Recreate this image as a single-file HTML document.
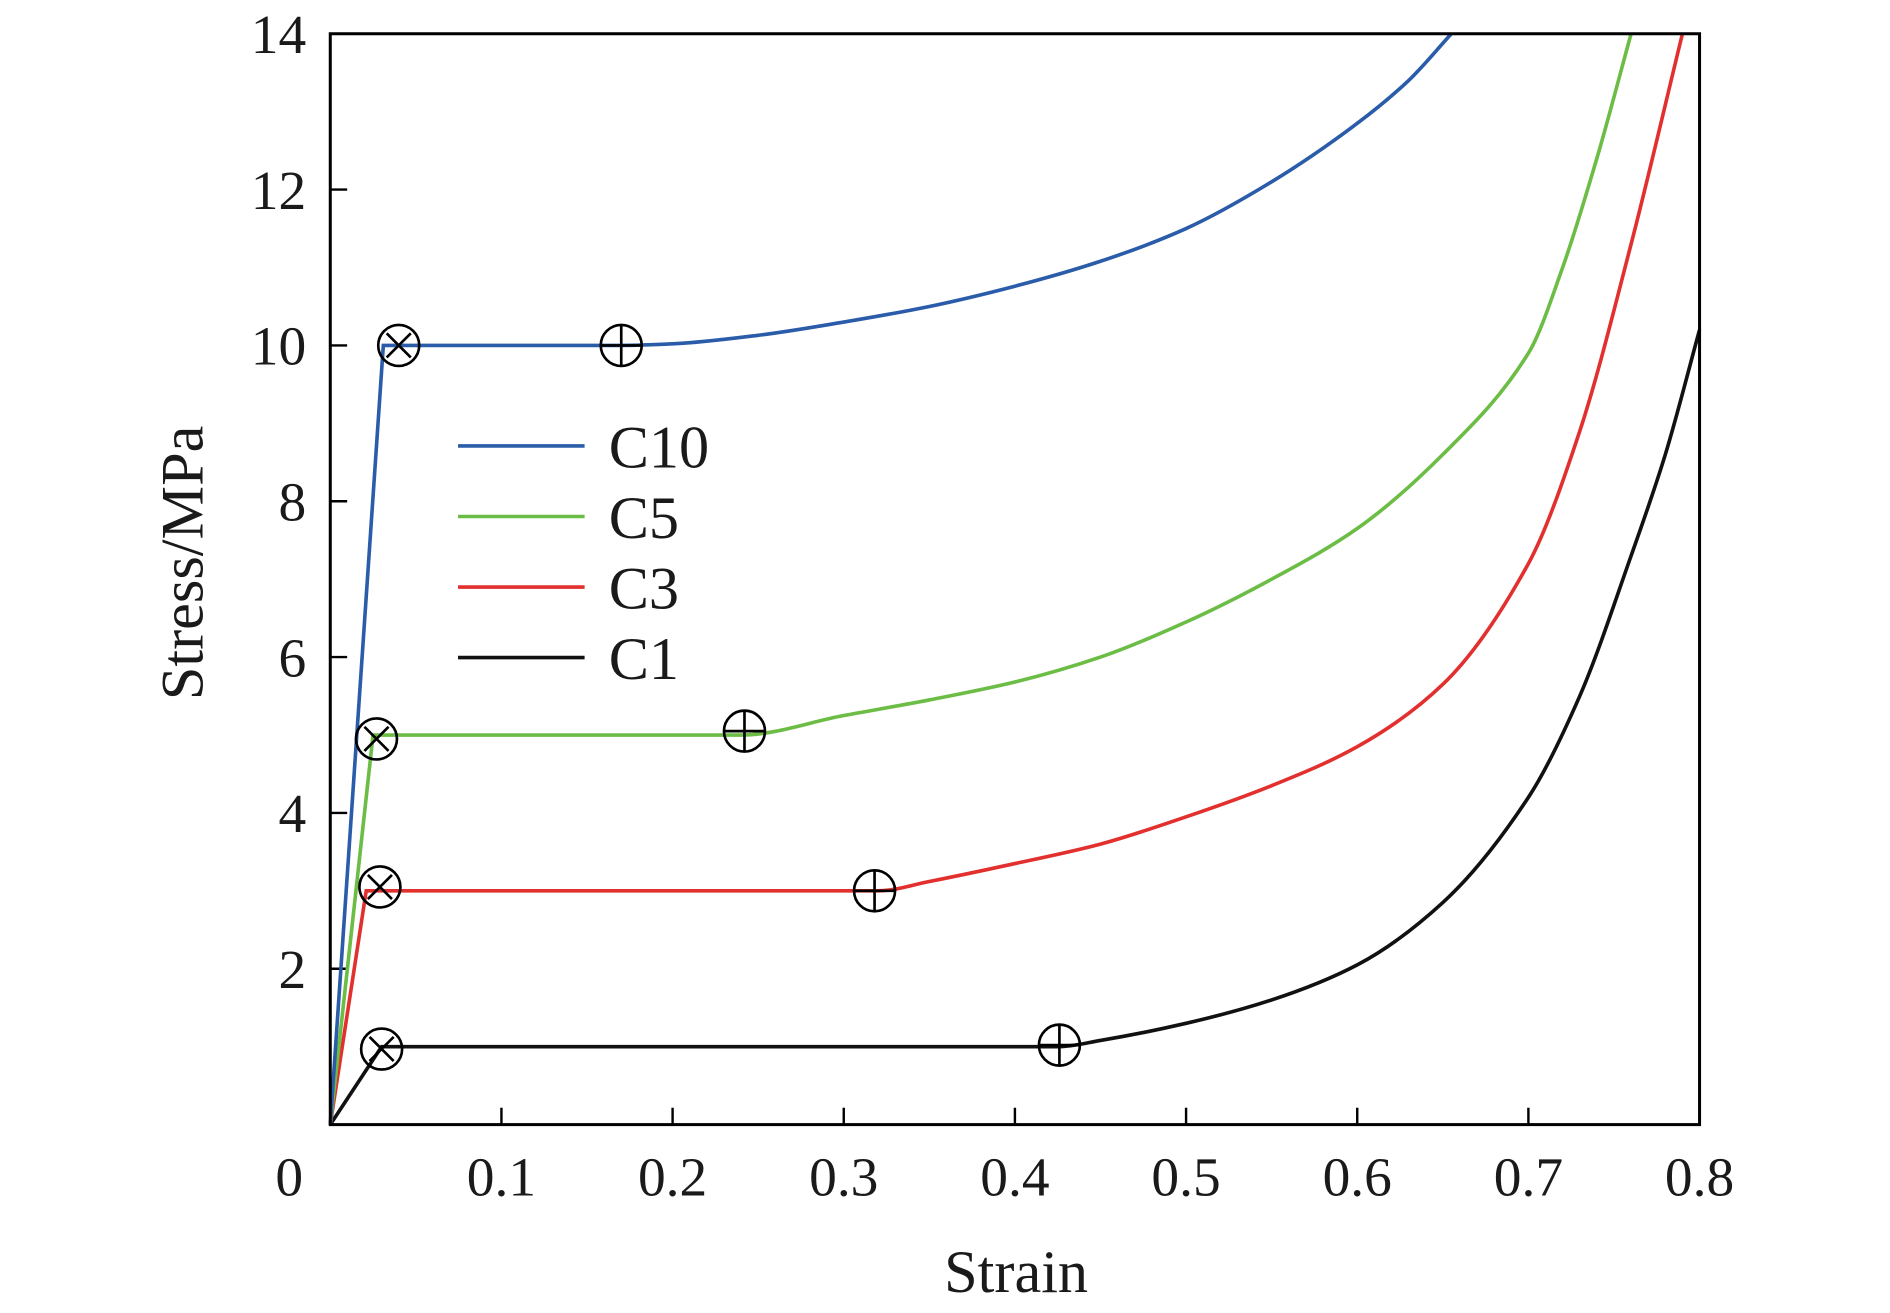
<!DOCTYPE html>
<html><head><meta charset="utf-8"><style>html,body{margin:0;padding:0;background:#fff}svg{display:block}text{font-family:"Liberation Serif",serif;fill:#1a1a1a}</style></head>
<body>
<svg id="chart" width="1890" height="1313" viewBox="0 0 1568 1089.3" xmlns="http://www.w3.org/2000/svg">
<g id="plot"></g>
</svg>
<script>
const xTicks=[0,0.1,0.2,0.3,0.4,0.5,0.6,0.7,0.8];
const xTickLabels=["0","0.1","0.2","0.3","0.4","0.5","0.6","0.7","0.8"];
const yTicks=[2,4,6,8,10,12,14];
const yTickLabels=["2","4","6","8","10","12","14"];
const seriesNames=["C10","C5","C3","C1"];
const seriesColors=["#2a5caa","#6cbd45","#e2302e","#111111"];
const c10X=[0,0.031,0.17,0.2,0.25,0.3,0.35,0.4,0.45,0.5,0.55,0.6,0.63,0.655];
const c10Y=[0,10,10,10.02,10.13,10.3,10.5,10.76,11.08,11.5,12.1,12.85,13.4,14];
const c5X=[0,0.025,0.24,0.3,0.35,0.4,0.45,0.5,0.55,0.6,0.65,0.7,0.72,0.74,0.76];
const c5Y=[0,5,5,5.25,5.45,5.68,6.0,6.45,7.0,7.65,8.6,9.9,11.0,12.4,14];
const c3X=[0,0.021,0.32,0.35,0.4,0.45,0.5,0.55,0.6,0.65,0.7,0.73,0.76,0.79];
const c3Y=[0,3,3,3.12,3.35,3.6,3.95,4.35,4.85,5.65,7.2,8.9,11.3,14];
const c1X=[0,0.03,0.425,0.45,0.5,0.55,0.6,0.65,0.7,0.73,0.76,0.78,0.8];
const c1Y=[0,1,1,1.08,1.3,1.6,2.05,2.85,4.2,5.5,7.3,8.6,10.2];
const yieldX=[0.04,0.027,0.029,0.03];
const yieldY=[10,4.95,3.05,0.97];
const densX=[0.17,0.242,0.318,0.426];
const densY=[10,5.05,3,1.02];

const L=274,R=1410,T=28,B=933;
const sx=v=>L+v/0.8*(R-L);
const sy=v=>B-v/14*(B-T);
const NS="http://www.w3.org/2000/svg";
const g=document.getElementById('plot');
function mk(tag,attrs){const e=document.createElementNS(NS,tag);for(const k in attrs)e.setAttribute(k,attrs[k]);g.appendChild(e);return e;}

xTicks.forEach((t,i)=>{
 if(i>0&&i<xTicks.length-1){const tk=mk('line',{x1:sx(t),x2:sx(t),y1:B,y2:B-14,stroke:'#000','stroke-width':2});
 
 }
 const tx=mk('text',{x:sx(t)+(i==0?-34:0),y:992,'font-size':46,'text-anchor':'middle'});tx.textContent=xTickLabels[i];
 
 
});
yTicks.forEach((t,i)=>{
 if(t<14){const tk=mk('line',{x1:L,x2:L+14,y1:sy(t),y2:sy(t),stroke:'#000','stroke-width':2});
 
 }
 const tx=mk('text',{x:254,y:sy(t)+16,'font-size':46,'text-anchor':'end'});tx.textContent=yTickLabels[i];
 
 
});

// monotone cubic from plateau start onward
function smooth(xs,ys){
 const p=xs.map((x,i)=>[sx(x),sy(ys[i])]);
 let d='M'+p[0][0]+','+p[0][1]+'L'+p[1][0]+','+p[1][1]+'L'+p[2][0]+','+p[2][1];
 const q=p.slice(1),n=q.length;
 const dl=[],m=[];
 for(let i=0;i<n-1;i++)dl.push((q[i+1][1]-q[i][1])/(q[i+1][0]-q[i][0]));
 m[0]=0;m[1]=0;
 for(let i=2;i<n-1;i++){m[i]=dl[i-1]*dl[i]<=0?0:2/(1/dl[i-1]+1/dl[i]);}
 m[n-1]=dl[n-2];
 for(let i=1;i<n-1;i++){
  const a=q[i],b=q[i+1],h=(b[0]-a[0])/3;
  d+='C'+(a[0]+h)+','+(a[1]+m[i]*h)+' '+(b[0]-h)+','+(b[1]-m[i+1]*h)+' '+b[0]+','+b[1];
 }
 return d;
}
const allX=[c10X,c5X,c3X,c1X],allY=[c10Y,c5Y,c3Y,c1Y];
for(let s=3;s>=0;s--){
 const pth=mk('path',{d:smooth(allX[s],allY[s]),fill:'none',stroke:seriesColors[s],'stroke-width':3});
 
 
}
for(let s=0;s<4;s++){
 const a=sx(yieldX[s]),b=sy(yieldY[s]);
 const c=mk('circle',{cx:a,cy:b,r:17,fill:'none',stroke:'#000','stroke-width':2.2});
 
 
 mk('path',{d:`M${a-10},${b-10}L${a+10},${b+10}M${a+10},${b-10}L${a-10},${b+10}`,stroke:'#000','stroke-width':2.2});
 const e=sx(densX[s]),f=sy(densY[s]);
 const c2=mk('circle',{cx:e,cy:f,r:17,fill:'none',stroke:'#000','stroke-width':2.2});
 
 
 mk('path',{d:`M${e-17},${f}L${e+17},${f}M${e},${f-17}L${e},${f+17}`,stroke:'#000','stroke-width':2.2});
}
const fr=mk('rect',{x:L,y:T,width:R-L,height:B-T,fill:'none',stroke:'#000','stroke-width':2.5});


seriesNames.forEach((n,i)=>{
 const y=370+i*58.5;
 const ln=mk('line',{x1:380,x2:485,y1:y,y2:y,stroke:seriesColors[i],'stroke-width':3});
 
 
 const t=mk('text',{x:505,y:y+18,'font-size':50});t.textContent=n;
 
 
});
const xl=mk('text',{x:843,y:1072,'font-size':50,'text-anchor':'middle'});xl.textContent='Strain';


const yl=mk('text',{x:0,y:0,'font-size':50,'text-anchor':'middle',transform:'translate(168,467) rotate(-90)'});yl.textContent='Stress/MPa';


</script>
</body></html>
